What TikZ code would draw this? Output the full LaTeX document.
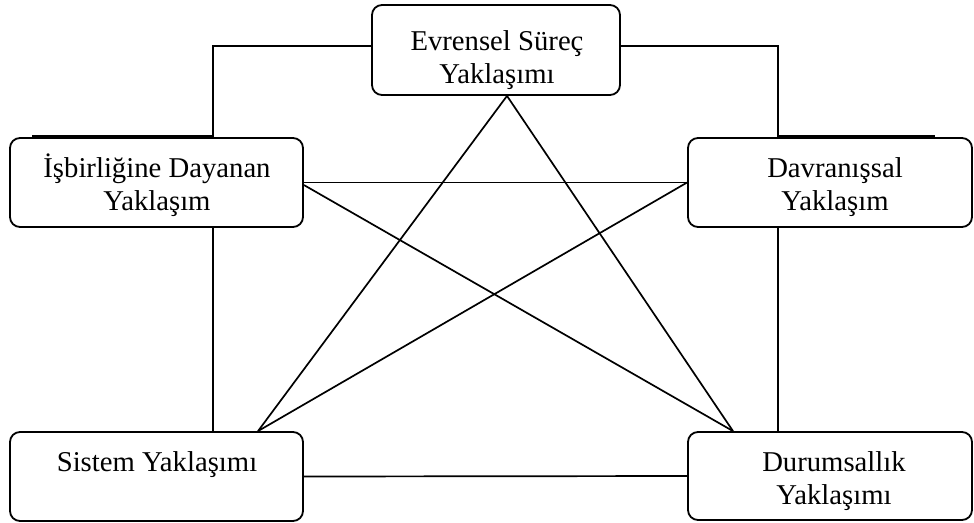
\documentclass[tikz,border=0pt]{standalone}
\usepackage{fontspec}
\setmainfont{Liberation Serif}
\begin{document}
\begin{tikzpicture}[x=1pt,y=-1pt,
  box/.style={draw, line width=1.8pt, rounded corners=10pt, inner sep=0pt},
  lbl/.style={font=\fontsize{28.7}{33}\selectfont, align=center, inner sep=0pt, anchor=base},
  conn/.style={line width=1.7pt}]
\useasboundingbox (0,0) rectangle (974,522);

% approach boxes
\node[box, minimum width=248pt, minimum height=90pt] (ev) at (496,50) {};
\node[box, minimum width=293pt, minimum height=89pt] (ib) at (156.5,182.5) {};
\node[box, minimum width=284pt, minimum height=89pt] (dv) at (830,182.5) {};
\node[box, minimum width=293pt, minimum height=89pt] (si) at (156.5,476.5) {};
\node[box, minimum width=284pt, minimum height=88pt] (du) at (830,476) {};

% box captions (anchored at the baseline of the last line)
\node[lbl] (evt) at (497,83) {Evrensel Süreç\\Yaklaşımı};
\node[lbl] (ibt) at (157,210) {İşbirliğine Dayanan\\Yaklaşım};
\node[lbl] (dvt) at (835,210) {Davranışsal\\Yaklaşım};
\node[lbl] (sit) at (157,471) {Sistem Yaklaşımı};
\node[lbl] (dut) at (834,504) {Durumsallık\\Yaklaşımı};

% elbow points above the side boxes
\coordinate (cL1) at (32,136);
\coordinate (cL2) at (213,136);
\coordinate (cR2) at (778,136);
\coordinate (cR1) at (935,136);

% outer frame links
\draw[conn] ([yshift=4pt]ev.west) -| (cL2) -- (cL1);
\draw[conn] ([yshift=4pt]ev.east) -| (cR2) -- (cR1);
\draw[conn] (ib.south -| cL2) -- (si.north -| cL2);
\draw[conn] (dv.south -| cR2) -- (du.north -| cR2);
\draw[conn] (ib.east) -- (dv.west);
\draw[conn] (si.east) -- (du.west);

% star links
\draw[conn] ([xshift=101.5pt]si.north) -- ([xshift=11pt]ev.south) -- ([xshift=-97pt]du.north);
\draw[conn] ([yshift=-2.5pt]ib.east) -- ([xshift=-97pt]du.north);
\draw[conn] (dv.west) -- ([xshift=101.5pt]si.north);
\end{tikzpicture}
\end{document}
